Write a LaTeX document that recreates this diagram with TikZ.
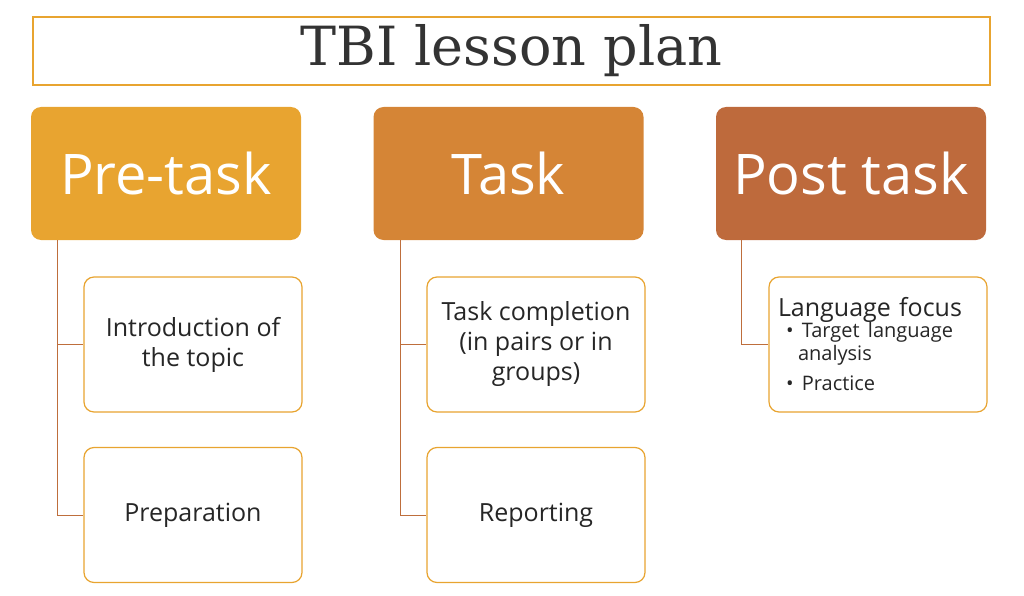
\documentclass[tikz,border=0pt]{standalone}
\usepackage{fontspec}
\setmainfont{Open Sans}
\newfontfamily\titlefont{DejaVu Serif}
\usetikzlibrary{positioning}
\definecolor{pregold}{RGB}{232,164,48}
\definecolor{taskorange}{RGB}{213,133,54}
\definecolor{postbrown}{RGB}{190,106,60}
\definecolor{linebrown}{RGB}{190,110,60}

\begin{document}
\begin{tikzpicture}[x=1pt,y=-1pt,
  headbox/.style={rounded corners=10pt, minimum width=270pt, minimum height=133pt,
    text=white, font=\fontsize{56}{62}\selectfont, inner sep=0pt},
  itembox/.style={draw=pregold, line width=1.2pt, fill=white, rounded corners=10pt,
    minimum width=218pt, minimum height=135pt, align=center,
    font=\fontsize{25}{30}\selectfont, text=black!85, inner sep=4pt},
  link/.style={draw=linebrown, line width=1pt}]

\useasboundingbox (0,0) rectangle (1024,596);

% title
\node[draw=pregold, line width=1.2pt, minimum width=957pt, minimum height=68pt,
  font=\titlefont\fontsize{54}{58}\selectfont, text=black!80] (title) at (511.5,51) {TBI lesson plan};

% headers
\node[headbox, fill=pregold] (pre) at (166,173.5) {Pre-task};
\node[headbox, fill=taskorange] (task) at (508.5,173.5) {Task};
\node[headbox, fill=postbrown] (post) at (851,173.5) {Post task};

% Pre-task items
\node[itembox] (intro) at (193,344.5) {Introduction of\\the topic};
\node[itembox] (prep) at (193,515) {Preparation};

% Task items
\node[itembox] (compl) at (536,344.5) {Task completion\\(in pairs or in\\groups)};
\node[itembox] (report) at (536,515) {Reporting};

% Post task item
\node[itembox, align=left, text width=208pt, inner sep=2pt] (focus) at (878,344.5)
  {\hspace*{4pt}Language focus\\[-2pt]
   {\fontsize{20}{23}\selectfont
   \hspace*{12pt}\textbullet\ Target language\\
   \hspace*{24pt}analysis\\
   \hspace*{12pt}\textbullet\ Practice}};

% connectors
\coordinate (prex) at (57,0);
\coordinate (taskx) at (400,0);
\coordinate (postx) at (741,0);
\path[link] (pre.south -| prex) |- (prep.west);
\path[link] (prex |- intro.west) -- (intro.west);
\path[link] (task.south -| taskx) |- (report.west);
\path[link] (taskx |- compl.west) -- (compl.west);
\path[link] (post.south -| postx) |- (focus.west);
\end{tikzpicture}
\end{document}
